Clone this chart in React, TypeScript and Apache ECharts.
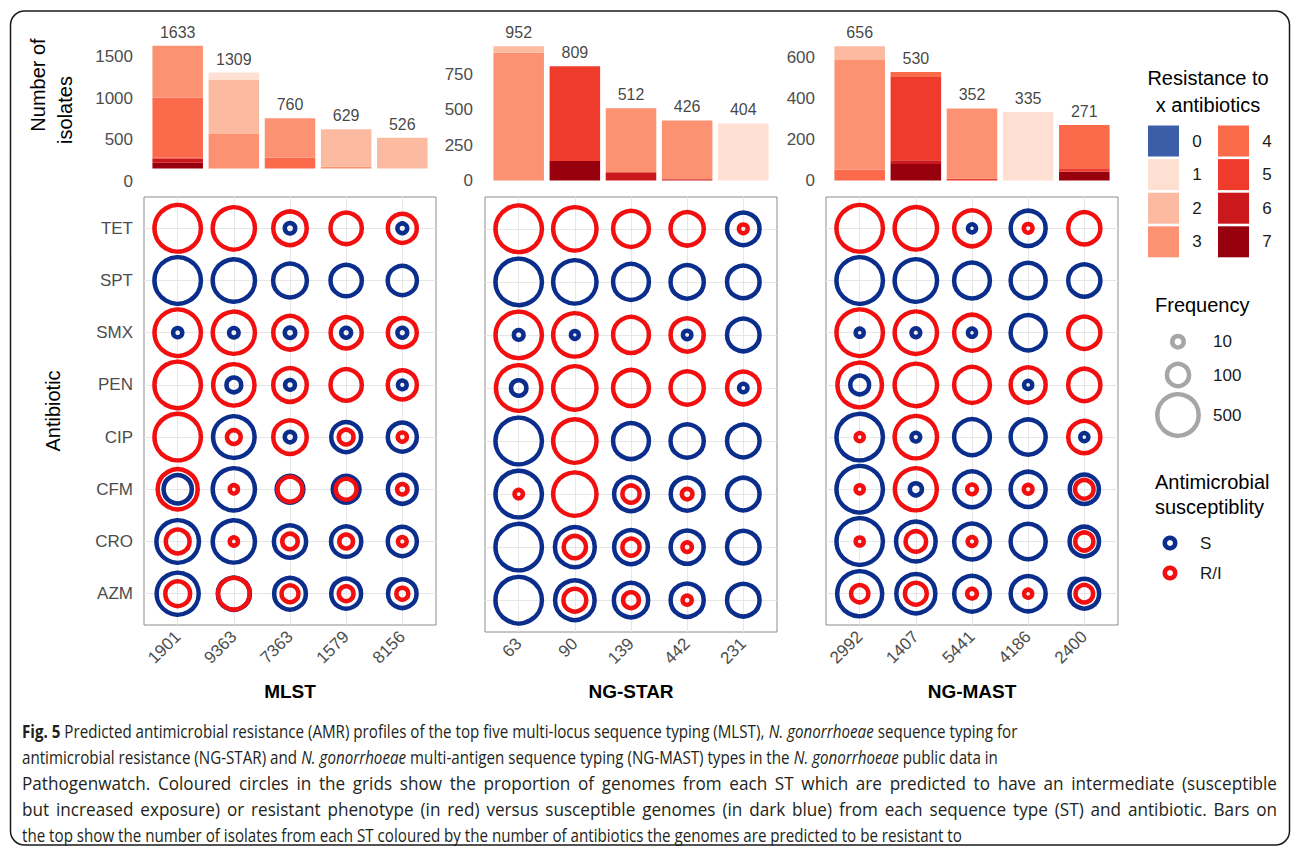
import React, { useEffect, useRef } from 'react';
import * as echarts from 'echarts';

// ---------------- DATA ----------------
const ANTIBIOTICS = ['TET', 'SPT', 'SMX', 'PEN', 'CIP', 'CFM', 'CRO', 'AZM'];
const RESISTANCE_CLASSES = ['0', '1', '2', '3', '4', '5', '6', '7'];
const RESISTANCE_COLORS = ['#3C5EA8', '#FEE0D2', '#FCBBA1', '#FC9272', '#FB6A4A', '#EF3B2C', '#CB181D', '#99000D'];
const FREQUENCY_BREAKS = [10, 100, 500];
const SUSCEPTIBILITY_LABELS = ['S', 'R/I'];

// MLST
const MLST_TYPES = ['1901', '9363', '7363', '1579', '8156'];
const MLST_TOTALS = [1633, 1309, 760, 629, 526];
const MLST_TICKS = [0, 500, 1000, 1500];
// isolates resistant to x antibiotics (rows: x = 0..7)
const MLST_STACK = [
  [0, 0, 0, 0, 0],
  [0, 89, 0, 0, 0],
  [0, 650, 0, 449, 526],
  [626, 570, 475, 180, 0],
  [722, 0, 285, 0, 0],
  [10, 0, 0, 0, 0],
  [50, 0, 0, 0, 0],
  [225, 0, 0, 0, 0],
];
// rows: antibiotics, cols: types
const MLST_RESISTANT = [
  [1633, 1309, 744, 629, 515],
  [0, 0, 0, 0, 0],
  [1626, 1300, 744, 618, 515],
  [1633, 1239, 749, 629, 521],
  [1633, 54, 744, 70, 7],
  [1150, 3, 340, 209, 16],
  [305, 3, 83, 54, 5],
  [342, 639, 110, 70, 30],
];
const MLST_SUSCEPTIBLE = [
  [0, 0, 16, 0, 11],
  [1633, 1309, 760, 629, 526],
  [7, 9, 16, 11, 11],
  [0, 70, 11, 0, 5],
  [0, 1255, 16, 559, 519],
  [483, 1306, 420, 420, 510],
  [1328, 1306, 677, 575, 521],
  [1291, 670, 650, 559, 496],
];

// NG-STAR
const STAR_TYPES = ['63', '90', '139', '442', '231'];
const STAR_TOTALS = [952, 809, 512, 426, 404];
const STAR_TICKS = [0, 250, 500, 750];
const STAR_STACK = [
  [0, 0, 0, 0, 0],
  [0, 0, 0, 0, 404],
  [46, 0, 0, 0, 0],
  [906, 0, 454, 418, 0],
  [0, 0, 0, 0, 0],
  [0, 671, 0, 0, 0],
  [0, 0, 58, 8, 0],
  [0, 138, 0, 0, 0],
];
const STAR_RESISTANT = [
  [952, 809, 512, 426, 3],
  [0, 0, 0, 0, 0],
  [946, 808, 512, 424, 0],
  [904, 809, 512, 426, 402],
  [0, 809, 0, 0, 0],
  [2, 809, 68, 10, 0],
  [0, 147, 68, 5, 0],
  [0, 158, 52, 4, 0],
];
const STAR_SUSCEPTIBLE = [
  [0, 0, 0, 0, 401],
  [952, 809, 512, 426, 404],
  [6, 1, 0, 2, 404],
  [48, 0, 0, 0, 2],
  [952, 0, 512, 426, 404],
  [950, 0, 444, 416, 404],
  [952, 662, 444, 421, 404],
  [952, 651, 460, 422, 404],
];

// NG-MAST
const MAST_TYPES = ['2992', '1407', '5441', '4186', '2400'];
const MAST_TOTALS = [656, 530, 352, 335, 271];
const MAST_TICKS = [0, 200, 400, 600];
const MAST_STACK = [
  [0, 0, 0, 0, 0],
  [0, 0, 0, 335, 0],
  [67, 0, 0, 0, 0],
  [537, 0, 344, 0, 0],
  [52, 21, 0, 0, 211],
  [0, 410, 8, 0, 16],
  [0, 18, 0, 0, 0],
  [0, 81, 0, 0, 44],
];
const MAST_RESISTANT = [
  [656, 530, 351, 2, 271],
  [0, 0, 0, 0, 0],
  [655, 528, 351, 0, 271],
  [594, 530, 352, 334, 271],
  [1, 528, 0, 0, 270],
  [1, 517, 4, 2, 60],
  [1, 80, 2, 0, 55],
  [47, 96, 4, 1, 50],
];
const MAST_SUSCEPTIBLE = [
  [0, 0, 1, 333, 0],
  [656, 530, 352, 335, 271],
  [1, 2, 1, 335, 0],
  [62, 0, 0, 1, 0],
  [655, 2, 352, 335, 1],
  [655, 13, 348, 333, 211],
  [655, 450, 350, 335, 216],
  [609, 434, 348, 334, 221],
];

const CAPTION_LINES = [
  '{b|Fig. 5} Predicted antimicrobial resistance (AMR) profiles of the top five multi-locus sequence typing (MLST), {i|N. gonorrhoeae} sequence typing for',
  'antimicrobial resistance (NG-STAR) and {i|N. gonorrhoeae} multi-antigen sequence typing (NG-MAST) types in the {i|N. gonorrhoeae} public data in',
  'Pathogenwatch. Coloured circles in the grids show the proportion of genomes from each ST which are predicted to have an intermediate (susceptible',
  'but increased exposure) or resistant phenotype (in red) versus susceptible genomes (in dark blue) from each sequence type (ST) and antibiotic. Bars on',
  'the top show the number of isolates from each ST coloured by the number of antibiotics the genomes are predicted to be resistant to',
];

// ---------------- STYLE / LAYOUT ----------------
const FONT = "'Liberation Sans', Arial, Helvetica, sans-serif";
const CAP_FONT = "'Open Sans', 'Noto Sans', sans-serif";
const CAP_SIZE = 18;
const CAP_COLOR = '#231F20';
const CAP_LEFT = 22;
const CAP_LINE1_WIDTH = 1000;
const CAP_FULL_WIDTH = 1255;
const CAP_JUSTIFY = [false, false, true, true, false];
const CAP_JUSTIFY_GLYPH = 1.13;
const S_COLOR = '#0B2D8C';
const R_COLOR = '#F20F0F';
const RING_W = 4.5;
const ringOuter = (v: number, vmax: number) => 11 + 40 * Math.sqrt(v / vmax);

const PANELS = [
  {
    title: 'MLST', types: MLST_TYPES, totals: MLST_TOTALS, stack: MLST_STACK, ticks: MLST_TICKS,
    resistant: MLST_RESISTANT, susceptible: MLST_SUSCEPTIBLE, showY: true,
    layout: { left: 144, top: 197, width: 292, height: 428, zeroY: 181.4, px: 0.0831, max: 1700, clipY: 168.5, labelRight: 133 },
  },
  {
    title: 'NG-STAR', types: STAR_TYPES, totals: STAR_TOTALS, stack: STAR_STACK, ticks: STAR_TICKS,
    resistant: STAR_RESISTANT, susceptible: STAR_SUSCEPTIBLE, showY: false,
    layout: { left: 485, top: 197, width: 292, height: 435, zeroY: 180.5, px: 0.1411, max: 1000, clipY: 180.5, labelRight: 473 },
  },
  {
    title: 'NG-MAST', types: MAST_TYPES, totals: MAST_TOTALS, stack: MAST_STACK, ticks: MAST_TICKS,
    resistant: MAST_RESISTANT, susceptible: MAST_SUSCEPTIBLE, showY: false,
    layout: { left: 826, top: 197, width: 292, height: 428, zeroY: 180.5, px: 0.2047, max: 700, clipY: 180.5, labelRight: 815 },
  },
];

function txt(t: string, x: number, y: number, align: string, size = 20, color = '#000', rotation = 0) {
  return {
    type: 'text', x, y, rotation, silent: true,
    style: {
      text: t, align, textAlign: align, verticalAlign: 'middle', textVerticalAlign: 'middle',
      fontSize: size, fontFamily: FONT, fill: color,
    },
  };
}

function capText(t: string, x: number, y: number, sx: number) {
  return {
    type: 'text', silent: true, x, y, scaleX: sx, scaleY: 1,
    style: {
      text: t, align: 'left', textAlign: 'left', verticalAlign: 'middle', textVerticalAlign: 'middle',
      fontSize: CAP_SIZE, fontFamily: CAP_FONT, fill: CAP_COLOR,
      rich: {
        b: { fontSize: CAP_SIZE, fontFamily: CAP_FONT, fontWeight: 'bold', fill: CAP_COLOR },
        i: { fontSize: CAP_SIZE, fontFamily: CAP_FONT, fontStyle: 'italic', fill: CAP_COLOR },
      },
    },
  };
}

function buildOption() {
  const grid: any[] = [];
  const xAxis: any[] = [];
  const yAxis: any[] = [];
  const series: any[] = [];
  const colIdx = [0, 1, 2, 3, 4];
  const rowIdx = ANTIBIOTICS.map((_, i) => i);

  PANELS.forEach((p, k) => {
    const L = p.layout;
    const unit = L.width / 5.2;
    const vmax = Math.max(...p.totals);
    const ring = (v: number) => ringOuter(v, vmax) - RING_W;

    // ---- bubble grid ----
    const gi = grid.length;
    grid.push({
      left: L.left, top: L.top, width: L.width, height: L.height, show: true,
      borderColor: '#8C8C8C', borderWidth: 1, backgroundColor: '#fff', containLabel: false, outerBoundsMode: 'none',
    });
    xAxis.push({
      gridIndex: gi, type: 'value', min: -0.6, max: 4.6, position: 'bottom',
      splitLine: { show: false }, axisLine: { show: false },
      axisTick: { show: true, length: 5, customValues: colIdx, lineStyle: { color: '#333', width: 1 } },
      axisLabel: {
        customValues: colIdx, formatter: (v: number) => p.types[Math.round(v)], rotate: 45, margin: 9,
        fontSize: 17, color: '#4D4D4D', fontFamily: FONT,
      },
      name: p.title, nameLocation: 'middle', nameGap: 692 - 10 - (L.top + L.height), nameMoveOverlap: false,
      nameTextStyle: { fontSize: 19, fontWeight: 'bold', color: '#000', fontFamily: FONT },
    });
    yAxis.push({
      gridIndex: gi, type: 'value', min: -0.6, max: 7.6, inverse: true,
      splitLine: { show: false }, axisLine: { show: false },
      axisTick: { show: true, length: 5, customValues: rowIdx, lineStyle: { color: '#333', width: 1 } },
      axisLabel: {
        show: p.showY, customValues: rowIdx, formatter: (v: number) => ANTIBIOTICS[Math.round(v)], margin: 11,
        fontSize: 17, color: '#4D4D4D', fontFamily: FONT,
      },
    });
    series.push({
      type: 'scatter', xAxisIndex: gi, yAxisIndex: gi, data: [[0, 0]], symbolSize: 0, silent: true, z: 1,
      markLine: {
        silent: true, symbol: ['none', 'none'], label: { show: false }, z: 1,
        lineStyle: { color: '#E6E6E6', width: 1, type: 'solid' }, emphasis: { disabled: true },
        data: [...colIdx.map((i) => ({ xAxis: i })), ...rowIdx.map((j) => ({ yAxis: j }))],
      },
    });
    const pts = (M: number[][]) => {
      const out: number[][] = [];
      M.forEach((row, i) => row.forEach((v, j) => { if (v > 0) out.push([j, i, v]); }));
      return out;
    };
    series.push({
      type: 'scatter', xAxisIndex: gi, yAxisIndex: gi, data: pts(p.susceptible), symbol: 'circle',
      symbolSize: (val: number[]) => ring(val[2]), silent: true, z: 10,
      itemStyle: { color: 'rgba(0,0,0,0)', borderColor: S_COLOR, borderWidth: RING_W, opacity: 1 },
    });
    series.push({
      type: 'scatter', xAxisIndex: gi, yAxisIndex: gi, data: pts(p.resistant), symbol: 'circle',
      symbolSize: (val: number[]) => ring(val[2]), silent: true, z: 11,
      itemStyle: { color: 'rgba(0,0,0,0)', borderColor: R_COLOR, borderWidth: RING_W, opacity: 1 },
    });

    // ---- bars ----
    const barLeft = L.left + 0.1 * unit;
    const barW = 5 * unit;
    const topY = L.zeroY - L.max * L.px;
    const ai = grid.length;
    grid.push({ left: barLeft, width: barW, top: topY, height: L.zeroY - topY, show: false, containLabel: false, outerBoundsMode: 'none' });
    xAxis.push({ gridIndex: ai, type: 'category', data: p.types, show: false });
    yAxis.push({
      gridIndex: ai, type: 'value', min: 0, max: L.max,
      splitLine: { show: false }, axisLine: { show: false }, axisTick: { show: false },
      axisLabel: {
        customValues: p.ticks, formatter: (v: number) => String(Math.round(v)),
        margin: barLeft - L.labelRight, fontSize: 17, color: '#4D4D4D', fontFamily: FONT,
      },
    });
    const bi = grid.length;
    grid.push({ left: barLeft, width: barW, top: topY, height: L.clipY - topY, show: false, containLabel: false, outerBoundsMode: 'none' });
    xAxis.push({ gridIndex: bi, type: 'category', data: p.types, show: false });
    yAxis.push({ gridIndex: bi, type: 'value', min: (L.zeroY - L.clipY) / L.px, max: L.max, show: false, splitLine: { show: false } });
    for (let c = RESISTANCE_CLASSES.length - 1; c >= 0; c--) {
      series.push({
        type: 'bar', name: RESISTANCE_CLASSES[c], xAxisIndex: bi, yAxisIndex: bi, stack: 'st' + k,
        data: p.stack[c], barWidth: '90%', clip: true, silent: true,
        itemStyle: { color: RESISTANCE_COLORS[c] },
      });
    }
    series.push({
      type: 'scatter', xAxisIndex: bi, yAxisIndex: bi, data: p.totals, symbolSize: 1, silent: true, z: 20,
      itemStyle: { color: 'rgba(0,0,0,0)' },
      label: { show: true, position: 'top', distance: 5, fontSize: 16, color: '#111', fontFamily: FONT },
    });
  });

  // ---- graphics ----
  const g: any[] = [];
  g.push({
    type: 'rect', silent: true, shape: { x: 10.5, y: 11, width: 1279, height: 834, r: 14 },
    style: { fill: 'none', stroke: '#1A1A1A', lineWidth: 1.5 },
  });
  g.push(txt('Number of', 38, 85, 'center', 20, '#000', Math.PI / 2));
  g.push(txt('isolates', 65, 110, 'center', 20, '#000', Math.PI / 2));
  g.push(txt('Antibiotic', 53, 411, 'center', 20, '#000', Math.PI / 2));

  g.push(txt('Resistance to', 1208, 78, 'center', 20));
  g.push(txt('x antibiotics', 1208, 105, 'center', 20));
  RESISTANCE_CLASSES.forEach((c, i) => {
    const col = Math.floor(i / 4);
    const row = i % 4;
    const x = 1148 + col * 70;
    const y = 125.5 + row * 33.6;
    g.push({ type: 'rect', silent: true, shape: { x, y, width: 31, height: 31 }, style: { fill: RESISTANCE_COLORS[i] } });
    g.push(txt(c, x + 49, y + 15.5, 'center', 17, '#1A1A1A'));
  });

  g.push(txt('Frequency', 1155, 305, 'left', 20));
  const freqY = [341.7, 375, 415];
  const legendVmax = Math.max(...MAST_TOTALS);
  FREQUENCY_BREAKS.forEach((b, i) => {
    g.push({
      type: 'circle', silent: true, shape: { cx: 1178, cy: freqY[i], r: (ringOuter(b, legendVmax) - RING_W) / 2 },
      style: { fill: 'none', stroke: '#A6A6A6', lineWidth: RING_W },
    });
    g.push(txt(String(b), 1213, freqY[i], 'left', 17, '#1A1A1A'));
  });

  g.push(txt('Antimicrobial', 1155, 482, 'left', 20));
  g.push(txt('susceptiblity', 1155, 507, 'left', 20));
  SUSCEPTIBILITY_LABELS.forEach((s, i) => {
    const cy = 543 + i * 30;
    g.push({
      type: 'circle', silent: true, shape: { cx: 1170, cy, r: (15 - RING_W) / 2 },
      style: { fill: 'none', stroke: i === 0 ? S_COLOR : R_COLOR, lineWidth: RING_W },
    });
    g.push(txt(s, 1200, cy, 'left', 17, '#1A1A1A'));
  });

  // caption
  let ctx: CanvasRenderingContext2D | null = null;
  try { ctx = document.createElement('canvas').getContext('2d'); } catch (e) { ctx = null; }
  const plain = (s: string) => s.replace(/\{[bi]\|([^}]*)\}/g, '$1');
  let sx = 0.8;
  if (ctx) {
    ctx.font = `${CAP_SIZE}px ${CAP_FONT}`;
    const w = ctx.measureText(plain(CAPTION_LINES[0])).width;
    if (w > 0) sx = CAP_LINE1_WIDTH / w;
  }
  CAPTION_LINES.forEach((line, i) => {
    const y = 731 + i * 26;
    if (CAP_JUSTIFY[i] && ctx) {
      const words = line.split(' ');
      const ws = words.map((w) => ctx!.measureText(w).width);
      const sp = ctx.measureText(' ').width;
      const natural = ws.reduce((a, b) => a + b, 0) + sp * (words.length - 1);
      let gs = sx * CAP_JUSTIFY_GLYPH;
      if (gs * natural > CAP_FULL_WIDTH) gs = CAP_FULL_WIDTH / natural;
      const extra = Math.max(0, (CAP_FULL_WIDTH - gs * natural) / (words.length - 1));
      let x = CAP_LEFT;
      words.forEach((w, k) => {
        g.push(capText(w, x, y, gs));
        x += gs * (ws[k] + sp) + extra;
      });
    } else {
      g.push(capText(line, CAP_LEFT, y, sx));
    }
  });

  return {
    animation: false,
    backgroundColor: '#fff',
    grid, xAxis, yAxis, series,
    graphic: { elements: g },
  };
}

export default function App() {
  const ref = useRef<HTMLDivElement>(null);
  useEffect(() => {
    if (!ref.current) return;
    const chart = echarts.init(ref.current, null, { renderer: 'svg', width: 1293, height: 847 });
    chart.setOption(buildOption() as any);
    return () => chart.dispose();
  }, []);
  return (
    <div
      ref={ref}
      style={{ position: 'absolute', left: 0, top: 0, width: 1293, height: 847, background: '#fff' }}
    />
  );
}
